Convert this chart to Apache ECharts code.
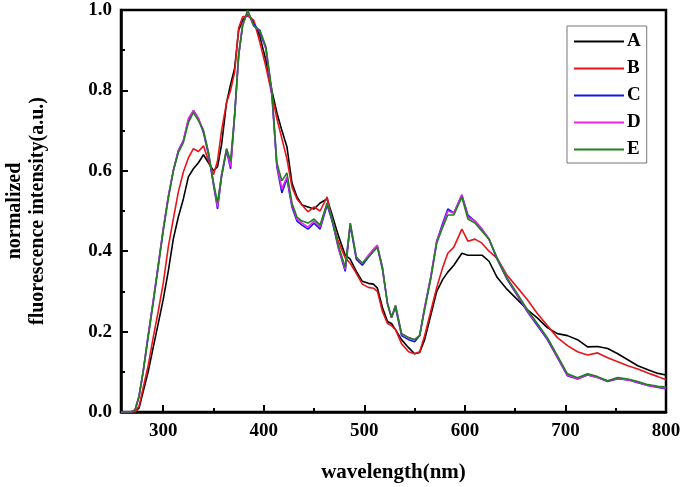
<!DOCTYPE html>
<html>
<head>
<meta charset="utf-8">
<script src="https://cdn.jsdelivr.net/npm/echarts@6/dist/echarts.min.js"></script>
<style>html,body{margin:0;padding:0;background:#fff}#c{width:685px;height:487px}</style>
</head>
<body>
<div id="c"></div>
<script>
// wavelength grid (nm)
var wavelength = [
  258,268,272,276,280,285,290,295,300,305,
  310,315,320,325,330,335,340,345,350,354,
  358,363,367,371,375,379,384,390,396,402,
  408,413,418,423,428,433,438,444,450,456,
  463,468,474,481,486,492,498,504,509,513,
  518,523,527,531,537,544,550,555,560,566,
  572,578,583,589,597,603,610,617,624,632,
  642,652,662,672,682,692,702,712,722,732,
  742,752,762,772,782,792,800
];
var seriesA = [
  0,0,0,0.01,0.05,0.10,0.16,0.22,0.28,0.35,
  0.43,0.485,0.53,0.585,0.605,0.62,0.64,0.62,0.60,0.61,
  0.665,0.77,0.815,0.855,0.95,0.975,0.99,0.97,0.935,0.875,
  0.80,0.745,0.70,0.66,0.57,0.535,0.515,0.51,0.505,0.52,
  0.53,0.49,0.44,0.39,0.38,0.35,0.325,0.32,0.318,0.308,
  0.26,0.225,0.22,0.205,0.18,0.16,0.145,0.148,0.18,0.24,
  0.30,0.33,0.348,0.365,0.395,0.39,0.39,0.39,0.375,0.335,
  0.305,0.28,0.255,0.234,0.21,0.195,0.19,0.18,0.162,0.163,
  0.158,0.145,0.13,0.115,0.105,0.096,0.092
];
var seriesB = [
  0,0,0,0.015,0.06,0.115,0.185,0.25,0.32,0.41,
  0.48,0.547,0.597,0.632,0.655,0.648,0.662,0.625,0.59,0.625,
  0.70,0.77,0.80,0.845,0.955,0.983,0.985,0.975,0.92,0.86,
  0.79,0.73,0.68,0.63,0.56,0.53,0.515,0.498,0.51,0.50,
  0.535,0.475,0.425,0.383,0.37,0.345,0.318,0.31,0.308,0.30,
  0.25,0.22,0.215,0.205,0.17,0.15,0.145,0.15,0.19,0.25,
  0.31,0.36,0.395,0.41,0.455,0.425,0.43,0.42,0.40,0.383,
  0.34,0.31,0.28,0.245,0.215,0.185,0.165,0.15,0.142,0.147,
  0.135,0.125,0.115,0.107,0.097,0.088,0.08
];
var seriesC = [
  0,0,0.005,0.04,0.10,0.19,0.275,0.365,0.455,0.535,
  0.60,0.65,0.675,0.725,0.75,0.73,0.695,0.64,0.565,0.505,
  0.585,0.65,0.605,0.735,0.885,0.965,0.995,0.965,0.945,0.905,
  0.79,0.61,0.545,0.58,0.51,0.475,0.465,0.455,0.47,0.455,
  0.515,0.475,0.41,0.35,0.465,0.38,0.365,0.385,0.40,0.41,
  0.355,0.27,0.235,0.26,0.19,0.18,0.175,0.19,0.26,0.335,
  0.425,0.47,0.505,0.495,0.54,0.49,0.475,0.455,0.43,0.38,
  0.33,0.29,0.25,0.215,0.18,0.135,0.09,0.082,0.092,0.086,
  0.076,0.083,0.08,0.073,0.066,0.061,0.058
];
var seriesD = [
  0,0,0.005,0.04,0.10,0.19,0.275,0.365,0.455,0.535,
  0.60,0.65,0.675,0.73,0.75,0.73,0.70,0.645,0.57,0.51,
  0.59,0.655,0.61,0.74,0.885,0.965,0.995,0.96,0.95,0.905,
  0.795,0.615,0.555,0.585,0.515,0.48,0.47,0.46,0.475,0.46,
  0.52,0.48,0.41,0.355,0.47,0.385,0.37,0.39,0.405,0.415,
  0.36,0.27,0.235,0.265,0.195,0.185,0.18,0.19,0.26,0.335,
  0.425,0.465,0.50,0.495,0.54,0.485,0.475,0.455,0.43,0.383,
  0.333,0.292,0.252,0.218,0.183,0.137,0.092,0.083,0.093,0.086,
  0.077,0.084,0.08,0.074,0.066,0.062,0.059
];
var seriesE = [
  0,0,0.005,0.04,0.10,0.185,0.27,0.36,0.45,0.53,
  0.60,0.645,0.67,0.72,0.745,0.725,0.70,0.645,0.57,0.52,
  0.59,0.655,0.625,0.74,0.89,0.96,1.0,0.96,0.95,0.91,
  0.80,0.62,0.575,0.595,0.52,0.485,0.475,0.47,0.48,0.465,
  0.52,0.48,0.415,0.36,0.47,0.385,0.37,0.385,0.40,0.41,
  0.36,0.27,0.235,0.265,0.195,0.185,0.18,0.19,0.255,0.33,
  0.42,0.46,0.49,0.49,0.535,0.48,0.47,0.45,0.43,0.383,
  0.333,0.295,0.255,0.22,0.185,0.14,0.095,0.085,0.095,0.088,
  0.078,0.086,0.082,0.076,0.068,0.064,0.062
];
var seriesNames = ['A','B','C','D','E'];
var seriesColors = ['#000000','#e8141a','#1414ee','#ee22ee','#1e801e'];
var xLabelValues = [300,400,500,600,700,800];
var xMinorTickValues = [350,450,550,650,750];

var allSeries = [seriesA, seriesB, seriesC, seriesD, seriesE];
var font = 'Liberation Serif';
var chart = echarts.init(document.getElementById('c'), null, {renderer:'canvas'});
chart.setOption({
  animation: false,
  backgroundColor: '#fff',
  grid: {left:121, right:19, top:10, bottom:75, outerBoundsMode:'none', containLabel:false,
         show:true, borderColor:'#000', borderWidth:2.5, backgroundColor:'transparent'},
  legend: {
    orient:'vertical', left:567, top:26,
    padding:[6,6,4,7], icon:'rect', itemWidth:50, itemHeight:2, itemGap:8,
    borderColor:'#777', borderWidth:1,
    textStyle:{fontFamily:font, fontWeight:'bold', fontSize:19, color:'#000', padding:[0,0,0,-2]},
    data: seriesNames
  },
  xAxis: [{
    type:'value', min:258, max:800,
    name:'wavelength(nm)', nameLocation:'middle', nameGap:50,
    nameTextStyle:{fontFamily:font, fontWeight:'bold', fontSize:21, color:'#000'},
    axisLine:{lineStyle:{color:'#000', width:2.5}},
    axisTick:{inside:true, length:7, lineStyle:{color:'#000', width:2}, customValues:xLabelValues},
    axisLabel:{fontFamily:font, fontWeight:'bold', fontSize:19, color:'#000', margin:10, customValues:xLabelValues},
    splitLine:{show:false}
  },{
    type:'value', min:258, max:800, position:'bottom', offset:0,
    axisLine:{show:false},
    axisTick:{show:true, inside:true, length:4, lineStyle:{color:'#000', width:2}, customValues:xMinorTickValues},
    axisLabel:{show:false, customValues:xMinorTickValues},
    splitLine:{show:false}
  }],
  yAxis: {
    type:'value', min:0, max:1, interval:0.2,
    name:'normalized\nfluorescence intensity(a.u.)', nameLocation:'middle', nameGap:72,
    nameTextStyle:{fontFamily:font, fontWeight:'bold', fontSize:20, color:'#000', lineHeight:23},
    axisLine:{show:true, lineStyle:{color:'#000', width:2.5}},
    axisTick:{inside:true, length:7, lineStyle:{color:'#000', width:2}},
    minorTick:{show:true, splitNumber:2, length:4, lineStyle:{color:'#000', width:2}},
    axisLabel:{fontFamily:font, fontWeight:'bold', fontSize:19, color:'#000', margin:9, formatter:function(v){return v.toFixed(1);}},
    splitLine:{show:false}
  },
  series: seriesNames.map(function(n, k){
    return {
      name:n, type:'line', xAxisIndex:0, symbol:'none', smooth:false,
      lineStyle:{color:seriesColors[k], width:1.6},
      itemStyle:{color:seriesColors[k]},
      data: wavelength.map(function(w,i){return [w, allSeries[k][i]];})
    };
  })
});
</script>
</body>
</html>
